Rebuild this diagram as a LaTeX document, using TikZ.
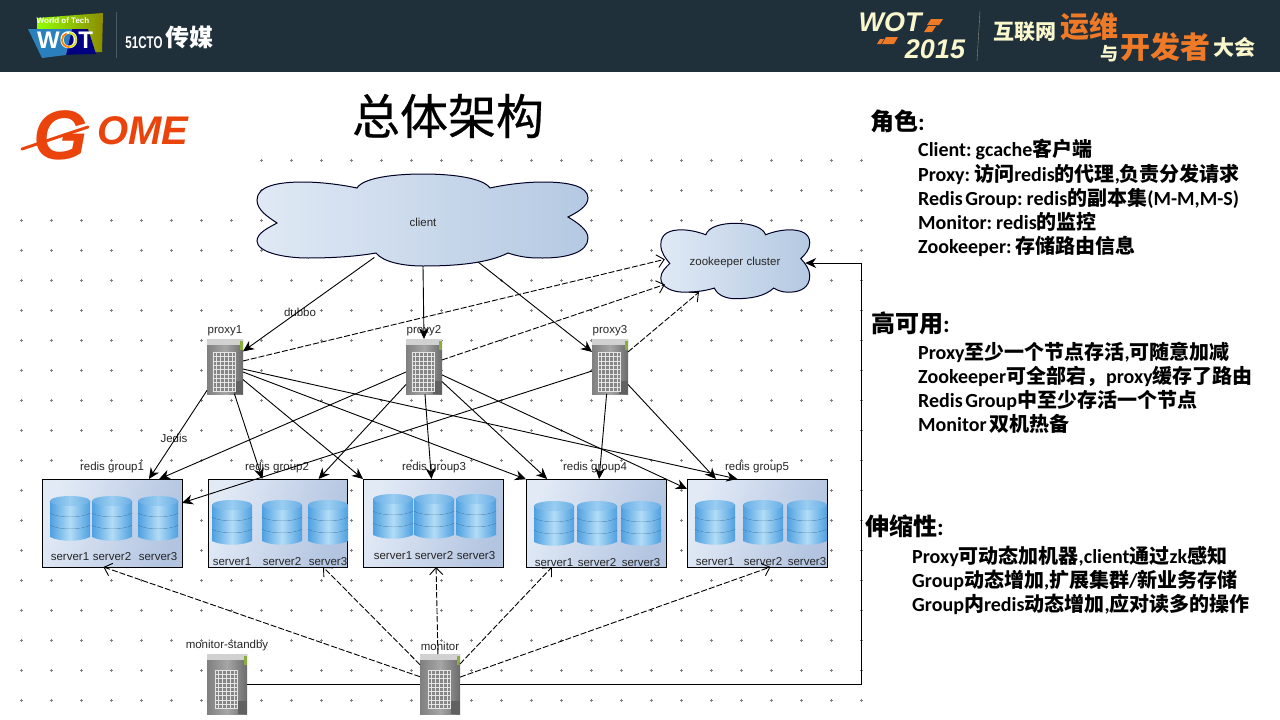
\documentclass[tikz,border=0pt]{standalone}
\usepackage{fontspec}
\setmainfont{Liberation Sans}
\newfontfamily\cjkfont{Noto Sans CJK SC}
\newfontfamily\titlefont[FakeBold=0.5]{Noto Sans CJK SC}
\newfontfamily\panelfont{Carlito}
\usetikzlibrary{arrows.meta, positioning, calc, shadings}
\definecolor{wotband}{RGB}{31,48,59}
\definecolor{wotcream}{RGB}{250,247,205}
\definecolor{wotorange}{RGB}{238,122,40}
\definecolor{gomered}{RGB}{234,68,12}
\definecolor{cloudlight}{RGB}{224,233,245}
\definecolor{clouddark}{RGB}{180,201,226}
\definecolor{boxlight}{RGB}{226,234,246}
\definecolor{boxdark}{RGB}{178,196,224}
\definecolor{drumblue}{RGB}{78,160,225}
\definecolor{drumlight}{RGB}{178,220,246}
\definecolor{griddot}{RGB}{130,130,130}
\newcommand{\zh}[1]{{\cjkfont #1}}
\newcommand{\fsz}[1]{\fontsize{#1}{#1}\selectfont}
\newcommand{\tightspace}{\spaceskip 2.5pt\relax}
\tikzset{
  lbl/.style={inner sep=0pt, text=black!85, font=\fsz{11.5}},
  paneltitle/.style={anchor=west, inner sep=0pt, font=\fsz{24}\panelfont\bfseries},
  panelitem/.style={anchor=west, inner sep=0pt, font=\fsz{20}\panelfont\bfseries\tightspace},
  redisbox/.style={draw=black, line width=0.9pt, minimum height=88pt, inner sep=0pt, outer sep=0pt,
    left color=boxlight, right color=boxdark, shading angle=70},
  flow/.style={draw=black, line width=0.9pt, -{Stealth[length=11pt,width=10pt]}},
  watch/.style={draw=black, line width=0.9pt, dash pattern=on 6pt off 2pt, -{Straight Barb[length=7pt,width=13pt]}},
  serverbox/.style={minimum width=#1, inner sep=0pt, outer sep=0pt,
    left color=black!50, right color=black!58, middle color=black!35,
    path picture={
      \fill[black!18] ($(path picture bounding box.north west)$) rectangle ($(path picture bounding box.north east)+(0,6)$);
      \fill[black!62] ($(path picture bounding box.south east)+(-9,-13)$) rectangle (path picture bounding box.south east);
      \fill[yellow!60!green!75!black] ($(path picture bounding box.north east)+(-3,2)$) rectangle ($(path picture bounding box.north east)+(0,11)$);
      \fill[black!48] ($(path picture bounding box.center)+(-12,-14)$) rectangle ($(path picture bounding box.center)+(11,25)$);
      \foreach \k in {0,...,6}
        \draw[black!10, line width=0.7pt] ($(path picture bounding box.center)+(-12+\k*3.8,-14)$) -- ++(0,39);
      \foreach \k in {0,...,9}
        \draw[black!10, line width=0.7pt] ($(path picture bounding box.center)+(-12,-14+\k*4.3)$) -- ++(23,0);
    }},
  drum/.pic={
    \foreach \t in {29,17,5} {
      \path[left color=drumblue, right color=drumblue, middle color=drumlight]
        (-20,\t) -- (-20,\t+12) .. controls (-10,\t+17) and (10,\t+17) .. (20,\t+12)
        -- (20,\t) .. controls (10,\t+5) and (-10,\t+5) .. (-20,\t) -- cycle;
      \draw[drumblue!60!black, line width=0.5pt] (-20,\t) .. controls (-10,\t+5) and (10,\t+5) .. (20,\t);
    }
    \path[left color=drumblue!85!white, right color=drumblue!85!white, middle color=drumlight!75!drumblue] (0,5) ellipse (20 and 5);
  },
  cloudshape/.pic={
    \path[draw=black!85!blue, line width=1pt, left color=cloudlight, right color=clouddark]
      (-66,-32) .. controls (-85,-36) and (-105,-38) .. (-120,-38)
      .. controls (-145,-38) and (-166,-34) .. (-166,-20)
      .. controls (-166,-10) and (-155,-3) .. (-146,3)
      .. controls (-155,8) and (-166,13) .. (-166,21)
      .. controls (-166,32) and (-140,38) .. (-115,38)
      .. controls (-95,38) and (-70,37) .. (-47,33)
      .. controls (-40,42) and (-20,46) .. (0,46)
      .. controls (35,46) and (65,43) .. (85,33)
      .. controls (100,38) and (110,38) .. (120,38)
      .. controls (145,38) and (165,32) .. (165,18)
      .. controls (165,10) and (155,3) .. (145,-3)
      .. controls (155,-8) and (165,-14) .. (165,-22)
      .. controls (165,-34) and (145,-38) .. (120,-38)
      .. controls (105,-38) and (85,-36) .. (67,-32)
      .. controls (60,-42) and (30,-46) .. (0,-46)
      .. controls (-30,-46) and (-60,-42) .. (-66,-32) -- cycle;
  },
}
\begin{document}
\begin{tikzpicture}[x=1pt,y=-1pt]
\useasboundingbox (0,0) rectangle (1280,720);
\fill[white] (0,0) rectangle (1280,720);

% Header band
\fill[wotband] (0,0) rectangle (1280,71.5);
\shade[left color=lime!70!green!90!yellow, right color=olive!90!yellow] (37,18) -- (103,13) -- (102,52) -- (88,52) -- (84,30) -- (37,30) -- cycle;
\fill[blue!50!black] (58,29) -- (88,29) -- (96,54) -- (50,55) -- cycle;
\fill[cyan!70!blue!85!black] (28,29) -- (72,29) -- (66,55) -- (42,58) -- cycle;
\node[inner sep=0pt, text=white, font=\fsz{8}\bfseries] (worldtech) at (63,21) {World of Tech};
\node[inner sep=0pt, text=white, font=\fsz{24}\bfseries] (wotleft) at (65,40) {WOT};
\draw[orange, line width=1.8pt] (69,47) arc (90:250:7);
\draw[yellow!80!green, line width=1.8pt] (69,33) arc (-90:90:7);
\draw[wotband!80!white] (116,12) -- (116,58);
\node[inner sep=0pt, text=white, font=\fsz{17}\bfseries] (cto) at (144,43) {\scalebox{0.68}[1]{51CTO}};
\node[inner sep=0pt, text=white, font=\fsz{24}\cjkfont\bfseries] (media) at (189,37) {传媒};

\node[inner sep=0pt, text=wotcream, font=\fsz{27}\itshape\bfseries] (wotright) at (890,22) {WOT};
\node[inner sep=0pt, text=wotcream, font=\fsz{27}\itshape\bfseries] (year) at (935,49) {2015};
\fill[wotorange] (931,19) -- (943,19) -- (939,25) -- (927,25) -- cycle;
\fill[wotorange] (928,26) -- (936,26) -- (932,32) -- (924,32) -- cycle;
\fill[wotorange] (886,37) -- (898,37) -- (894,44) -- (882,44) -- cycle;
\fill[wotorange] (880,39) -- (884,39) -- (881,44) -- (877,44) -- cycle;
\draw[wotcream!50!wotband] (980,11) -- (977,61);
\node[inner sep=0pt, text=wotcream, font=\fsz{21}\cjkfont\bfseries] (hulian) at (1025,32) {互联网};
\node[inner sep=0pt, text=wotorange, font=\fsz{29}\cjkfont\bfseries] (yunwei) at (1089,27) {运维};
\node[inner sep=0pt, text=wotcream, font=\fsz{18}\cjkfont\bfseries] (yu) at (1109,54) {与};
\node[inner sep=0pt, text=wotorange, font=\fsz{30}\cjkfont\bfseries] (kaifa) at (1165,47) {开发者};
\node[inner sep=0pt, text=wotcream, font=\fsz{21}\cjkfont\bfseries] (dahui) at (1234,47) {大会};

% Company mark and title
\node[inner sep=0pt, text=gomered, font=\fsz{70}\itshape\bfseries] (gomeg) at (61,135) {G};
\draw[gomered, line width=3pt, line cap=round] (22,149) -- (88,127);
\node[inner sep=0pt, text=gomered, font=\fsz{40}\itshape\bfseries] (gomerest) at (143,131) {OME};
\node[inner sep=0pt, font=\fsz{48}\titlefont] (title) at (448,116) {总体架构};

% Grid of dots
\foreach \y in {160,190}
  \foreach \x in {261,291,...,861}
    \draw[griddot, line width=0.4pt] (\x-1.5,\y) -- ++(3,0) (\x,\y-1.5) -- ++(0,3);
\foreach \y in {220,250,...,700}
  \foreach \x in {21,51,...,861}
    \draw[griddot, line width=0.4pt] (\x-1.5,\y) -- ++(3,0) (\x,\y-1.5) -- ++(0,3);

% Clouds
\pic at (423,220) {cloudshape};
\pic[xscale=0.45, yscale=0.82] at (735.5,261) {cloudshape};
\node[lbl, minimum width=110pt, minimum height=88pt] (client) at (423,222) {client};
\node[lbl, minimum width=140pt, minimum height=58pt] (zookeeper) at (735,263) {zookeeper cluster};

% Redis groups
\node[redisbox, minimum width=140pt] (group1) at (112,523) {};
\node[redisbox, minimum width=139pt] (group2) at (277.5,523) {};
\node[redisbox, minimum width=140pt] (group3) at (433,523) {};
\node[redisbox, minimum width=140pt] (group4) at (596,523) {};
\node[redisbox, minimum width=140pt] (group5) at (757,523) {};
\foreach \g/\xlab in {1/112,2/277,3/434,4/595,5/757}
  \node[lbl] (grouplabel\g) at (\xlab,468) {redis group\g};
\foreach \g/\xa/\xb/\xc/\ytop/\ylab in {1/70/112/158/496/557, 2/232/282/328/500/562, 3/393/434/476/494/556, 4/554/597/641/501/563, 5/715/763/807/500/562} {
  \pic at (\xa,\ytop) {drum};
  \pic at (\xb,\ytop) {drum};
  \pic at (\xc,\ytop) {drum};
  \node[lbl] (server\g a) at (\xa,\ylab) {server1};
  \node[lbl] (server\g b) at (\xb,\ylab) {server2};
  \node[lbl] (server\g c) at (\xc,\ylab) {server3};
}

% Servers
\node[serverbox=36pt, minimum height=55pt] (proxy1) at (225,366.5) {};
\node[serverbox=36pt, minimum height=55pt] (proxy2) at (424,366.5) {};
\node[serverbox=36pt, minimum height=55pt] (proxy3) at (610,366.5) {};
\node[serverbox=40pt, minimum height=60pt] (standby) at (227,684) {};
\node[serverbox=40pt, minimum height=60pt] (monitor) at (440,684) {};
\node[lbl] (proxylabel1) at (225,331) {proxy1};
\node[lbl] (proxylabel2) at (424,331) {proxy2};
\node[lbl] (proxylabel3) at (610,331) {proxy3};
\node[lbl] (standbylabel) at (227,646) {monitor-standby};
\node[lbl] (monitorlabel) at (440,646) {monitor};
\node[lbl] (dubbo) at (300,312) {dubbo};
\node[lbl] (jedis) at (174,438) {Jedis};

% Client to proxies
\draw[flow, shorten <=-8pt] (client.216) -- (proxy1.40);
\draw[flow] (client.south) -- (proxy2.north);
\draw[flow] (client.-36.7) -- (proxy3.141);

% Proxies to zookeeper
\draw[watch] (proxy1.17) -- (zookeeper.177);
\draw[watch] (proxy2.20) -- (zookeeper.197);
\draw[watch] (proxy3.39) -- (zookeeper.219);

% Proxies to redis groups
\draw[flow] (proxy1.233.7) -- (group1.50.7);
\draw[flow] (proxy1.-71.9) -- (group2.109.4);
\draw[flow] (proxy1.-36.9) -- (group3.north west);
\draw[flow] (proxy1.-17) -- (group4.148.4);
\draw[flow] (proxy1.-8) -- (group5.114.4);
\draw[flow] (proxy2.197) -- (group1.43.7);
\draw[flow] (proxy2.225.8) -- (group2.47.4);
\draw[flow] (proxy2.-88) -- (group3.92.6);
\draw[flow] (proxy2.-40.7) -- (group4.138.7);
\draw[flow] (proxy2.-25.3) -- (group5.154.8);
\draw[flow] (proxy3.194) -- (group1.16.7);
\draw[flow] (proxy3.263.8) -- (group4.86.1);
\draw[flow] (proxy3.-45.8) -- (group5.133.7);

% Monitor
\draw[watch] (monitor.160.7) -- (group1.259.7);
\draw[watch] (monitor.136.5) -- (group2.-44.7);
\draw[watch] (monitor.94) -- (group3.-86.1);
\draw[watch] (monitor.45) -- (group4.225.7);
\draw[watch] (monitor.19.3) -- (group5.-73.5);
\draw[draw=black, line width=0.9pt] (standby.east) -- (monitor.west);
\coordinate (turn) at (861,684);
\draw[flow] (monitor.east) -- (turn) |- (zookeeper.east);

% Roles
\node[paneltitle] (roles) at (870,121) {\zh{角色}:};
\node[panelitem] (role1) at (918,150) {Client: gcache\zh{客户端}};
\node[panelitem] (role2) at (918,174) {Proxy: \zh{访问}redis\zh{的代理},\zh{负责分发请求}};
\node[panelitem] (role3) at (918,198) {Redis Group: redis\zh{的副本集}(M-M,M-S)};
\node[panelitem] (role4) at (918,222) {Monitor: redis\zh{的监控}};
\node[panelitem] (role5) at (918,246) {Zookeeper: \zh{存储路由信息}};

% Availability
\node[paneltitle] (avail) at (871,323) {\zh{高可用}:};
\node[panelitem] (avail1) at (918,352) {Proxy\zh{至少一个节点存活},\zh{可随意加减}};
\node[panelitem] (avail2) at (918,376) {Zookeeper\zh{可全部宕，}proxy\zh{缓存了路由}};
\node[panelitem] (avail3) at (918,400) {Redis Group\zh{中至少存活一个节点}};
\node[panelitem] (avail4) at (918,424) {Monitor \zh{双机热备}};

% Scaling
\node[paneltitle] (scale) at (865,526) {\zh{伸缩性}:};
\node[panelitem] (scale1) at (912,556) {Proxy\zh{可动态加机器},client\zh{通过}zk\zh{感知}};
\node[panelitem] (scale2) at (912,580) {Group\zh{动态增加},\zh{扩展集群}/\zh{新业务存储}};
\node[panelitem] (scale3) at (912,604) {Group\zh{内}redis\zh{动态增加},\zh{应对读多的操作}};
\end{tikzpicture}
\end{document}
